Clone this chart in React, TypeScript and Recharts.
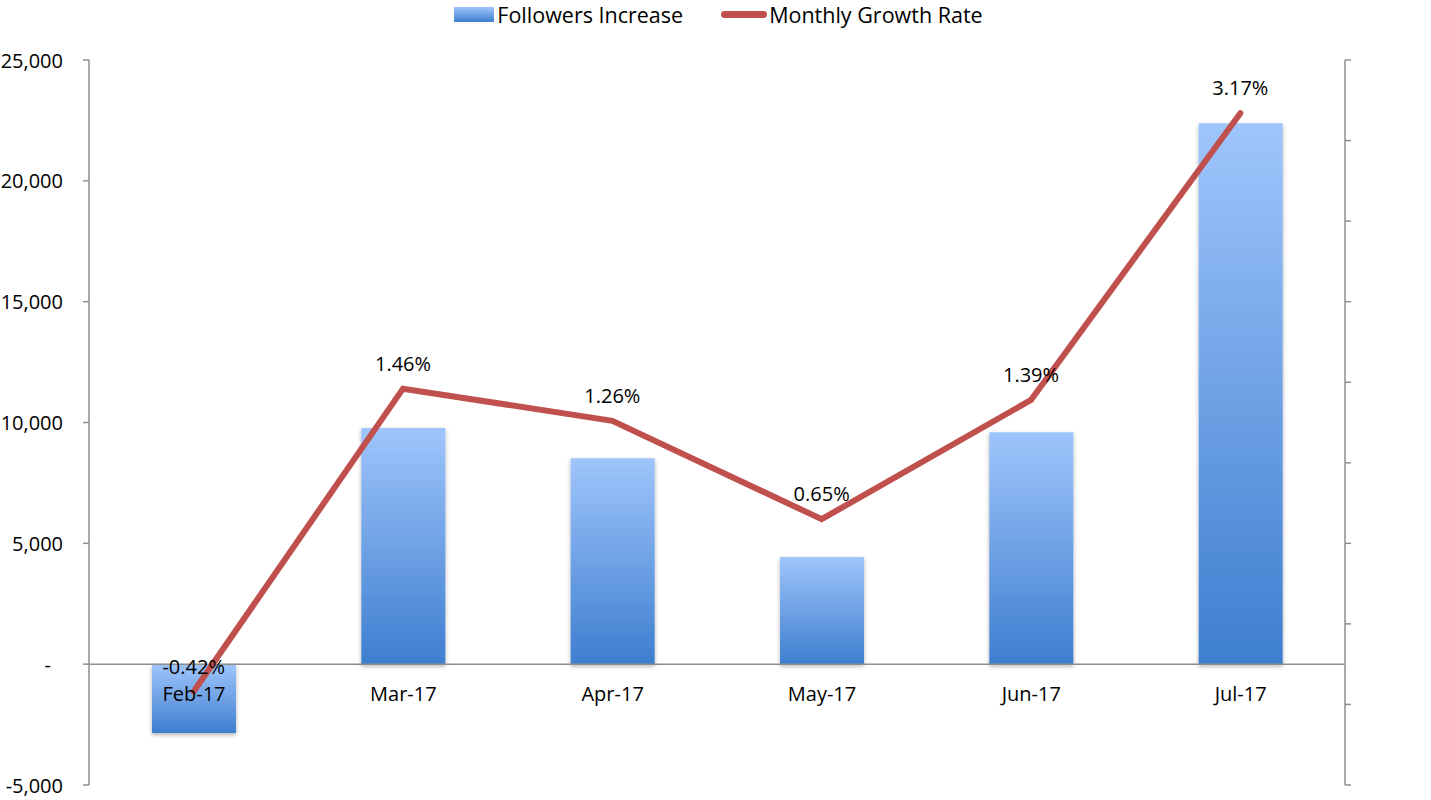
import React from 'react';
import {
  ComposedChart,
  Bar,
  Line,
  XAxis,
  YAxis,
  ReferenceLine,
  LabelList,
} from 'recharts';

const months = ['Feb-17', 'Mar-17', 'Apr-17', 'May-17', 'Jun-17', 'Jul-17'];
const followersIncrease = [-2850, 9770, 8520, 4430, 9600, 22380];
const growthRate = [-0.42, 1.46, 1.26, 0.65, 1.39, 3.17];
const leftTicks = [-5000, 0, 5000, 10000, 15000, 20000, 25000];
const rightTicks = [-1, -0.5, 0, 0.5, 1, 1.5, 2, 2.5, 3, 3.5];

const data = months.map((month, i) => ({
  month,
  followers: followersIncrease[i],
  rate: growthRate[i],
}));

const FONT = '"Open Sans", sans-serif';
const AXIS = '#8e8e8e';
const RED = '#c0504d';

const LeftTick = (props: any) => {
  const { x, y, payload } = props;
  const v = payload.value as number;
  const label = v === 0 ? '-' : v.toLocaleString('en-US');
  return (
    <text
      x={v === 0 ? x - 12 : x}
      y={y}
      textAnchor="end"
      dominantBaseline="central"
      fontSize={20}
      fontFamily={FONT}
      fill="#000"
    >
      {label}
    </text>
  );
};

// month name sits just under the zero line, whichever side the bar is on
const MonthLabel = (props: any) => {
  const { x, y, width, height, index } = props;
  const neg = followersIncrease[index] < 0;
  const zeroY = neg ? Math.min(y, y + height) : Math.max(y, y + height);
  return (
    <text
      x={x + width / 2}
      y={zeroY + 29}
      textAnchor="middle"
      dominantBaseline="central"
      fontSize={20}
      fontFamily={FONT}
      fill="#000"
    >
      {months[index]}
    </text>
  );
};

function Legend() {
  return (
    <div
      style={{
        position: 'absolute',
        top: 0,
        left: 0,
        width: 1431,
        display: 'flex',
        justifyContent: 'center',
        alignItems: 'center',
        fontFamily: FONT,
        fontSize: 21.5,
        lineHeight: '29px',
        color: '#000',
        height: 29,
        paddingLeft: 6,
        boxSizing: 'border-box',
        zIndex: 1,
      }}
    >
      <span
        style={{
          display: 'inline-block',
          width: 40,
          height: 15,
          background: 'linear-gradient(#9fc5fc, #3e7ecf)',
          marginRight: 3,
        }}
      />
      <span style={{ marginRight: 38 }}>Followers Increase</span>
      <span
        style={{
          display: 'inline-block',
          width: 46,
          height: 7,
          borderRadius: 4,
          background: RED,
          marginRight: 2,
        }}
      />
      <span>Monthly Growth Rate</span>
    </div>
  );
}

export default function App() {
  return (
    <div style={{ position: 'absolute', left: 0, top: 0, width: 1431, height: 800, background: '#fff' }}>
      <Legend />
      <ComposedChart
        width={1431}
        height={800}
        data={data}
        margin={{ top: 60, right: 70, bottom: 15, left: 0 }}
      >
        <defs>
          <linearGradient id="barGrad" x1="0" y1="0" x2="0" y2="1">
            <stop offset="0%" stopColor="#9fc5fc" />
            <stop offset="100%" stopColor="#3e7ecf" />
          </linearGradient>
          <filter id="barShadow" x="-20%" y="-20%" width="140%" height="140%">
            <feDropShadow dx="0" dy="2" stdDeviation="2" floodColor="#000" floodOpacity="0.3" />
          </filter>
        </defs>
        <XAxis dataKey="month" hide />
        <YAxis
          yAxisId="left"
          width={89}
          domain={[-5000, 25000]}
          ticks={leftTicks}
          interval={0}
          tickSize={6}
          tickMargin={20}
          axisLine={{ stroke: AXIS, strokeWidth: 1.5 }}
          tickLine={{ stroke: AXIS, strokeWidth: 1.5 }}
          tick={<LeftTick />}
        />
        <YAxis
          yAxisId="right"
          orientation="right"
          width={16}
          domain={[-1, 3.5]}
          ticks={rightTicks}
          interval={0}
          tickSize={6}
          axisLine={{ stroke: AXIS, strokeWidth: 1.5 }}
          tickLine={{ stroke: AXIS, strokeWidth: 1.5 }}
          tickFormatter={() => ''}
        />
        <ReferenceLine yAxisId="left" y={0} stroke={AXIS} strokeWidth={1.5} />
        <Bar
          yAxisId="left"
          dataKey="followers"
          barSize={84}
          fill="url(#barGrad)"
          filter="url(#barShadow)"
          isAnimationActive={false}
        >
          <LabelList dataKey="month" content={<MonthLabel />} />
        </Bar>
        <Line
          yAxisId="right"
          type="linear"
          dataKey="rate"
          stroke={RED}
          strokeWidth={6}
          strokeLinecap="round"
          strokeLinejoin="miter"
          dot={false}
          activeDot={false}
          isAnimationActive={false}
        >
          <LabelList
            dataKey="rate"
            position="top"
            offset={18}
            formatter={(v: any) => `${Number(v).toFixed(2)}%`}
            style={{ fontSize: 20, fontFamily: FONT, fill: '#000' }}
          />
        </Line>
      </ComposedChart>
    </div>
  );
}
